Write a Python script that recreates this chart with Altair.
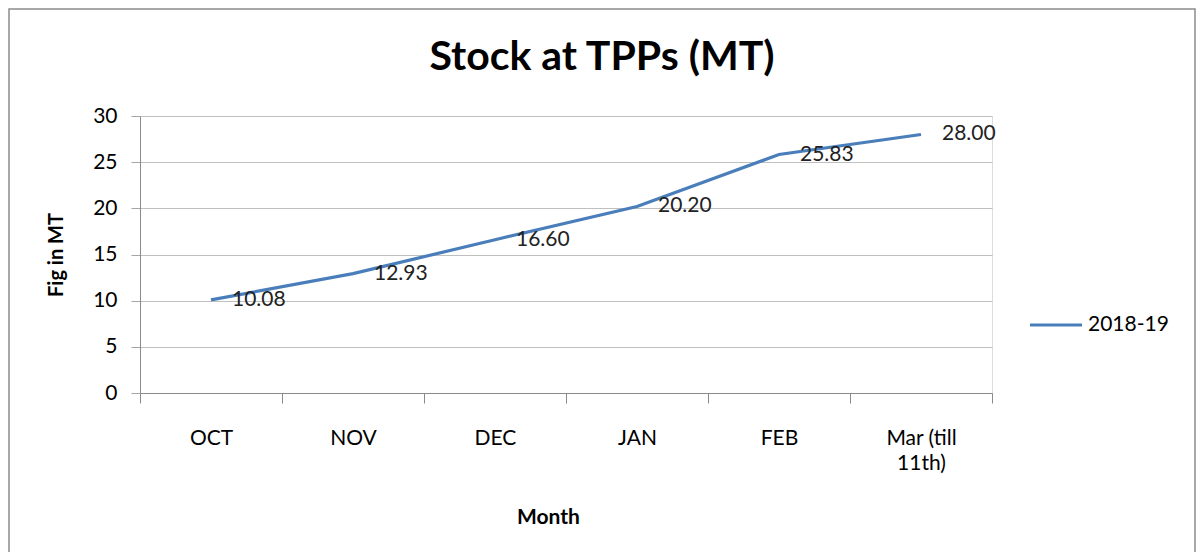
import altair as alt
import pandas as pd

months = ["OCT", "NOV", "DEC", "JAN", "FEB", "Mar (till 11th)"]
stock = [10.08, 12.93, 16.60, 20.20, 25.83, 28.00]
series = ["2018-19"] * len(months)

df = pd.DataFrame({"Month": months, "Stock": stock, "Series": series})

FONT = "Lato"
BLUE = "#4a7ebb"
W, H = 852, 277

x_enc = alt.X(
    "Month:N",
    sort=months,
    bandPosition=0.5,
    scale=alt.Scale(type="band", paddingInner=0, paddingOuter=0),
    axis=alt.Axis(
        title="Month",
        titleFont=FONT, titleFontSize=21, titleFontWeight="bold", titleColor="#000000",
        titlePadding=33, titleX=408,
        labelFont=FONT, labelFontSize=21, labelColor="#000000",
        labelAngle=0, labelPadding=24, labelLineHeight=25,
        labelExpr="datum.label == 'Mar (till 11th)' ? ['Mar (till', '11th)'] : datum.label",
        tickBand="extent", tickSize=10, tickColor="#8a8a8a", tickWidth=1,
        domainColor="#8a8a8a", domainWidth=1, grid=False,
    ),
)

y_enc = alt.Y(
    "Stock:Q",
    scale=alt.Scale(domain=[0, 30], nice=False),
    axis=alt.Axis(
        title="Fig in MT", values=[0, 5, 10, 15, 20, 25, 30],
        titleFont=FONT, titleFontSize=20, titleFontWeight="bold", titleColor="#000000",
        titlePadding=26,
        labelFont=FONT, labelFontSize=21, labelColor="#000000", labelPadding=14,
        tickSize=9, tickColor="#a6a6a6", domainColor="#8a8a8a",
        gridColor="#bfbfbf", gridWidth=1.2,
    ),
)

line = alt.Chart(df).mark_line(strokeWidth=3.2).encode(
    x=x_enc,
    y=y_enc,
    color=alt.Color(
        "Series:N",
        scale=alt.Scale(range=[BLUE]),
        legend=alt.Legend(
            title=None, orient="none", legendX=888, legendY=181,
            symbolType="stroke", symbolSize=2704, symbolStrokeWidth=3.2,
            labelFont=FONT, labelFontSize=21, labelColor="#000000",
            labelOffset=4, padding=0,
        ),
    ),
)

labels = alt.Chart(df).mark_text(
    align="left", baseline="middle", dx=21, font=FONT, fontSize=21, color="#222222"
).encode(
    x=alt.X("Month:N", sort=months, bandPosition=0.5),
    y="Stock:Q",
    text=alt.Text("Stock:Q", format=".2f"),
)

border = alt.Chart(pd.DataFrame({"a": [0]})).mark_rect(
    fill=None, stroke="#8c8c8c", strokeWidth=1.5
).encode(
    x=alt.value(-131), x2=alt.value(1055), y=alt.value(-107), y2=alt.value(500)
)

chart = alt.layer(border, line, labels).properties(
    width=W,
    height=H,
    title=alt.TitleParams(
        "Stock at TPPs (MT)", font=FONT, fontSize=41, fontWeight="bold",
        color="#000000", anchor="middle", frame="group", dx=36, dy=75,
    ),
    autosize=alt.AutoSizeParams(type="none"),
    padding={"left": 132, "top": 108, "right": 204, "bottom": 159},
).configure_view(stroke=None).configure(background="white")

chart.save("out.html", embed_options={"renderer": "svg", "actions": False})
